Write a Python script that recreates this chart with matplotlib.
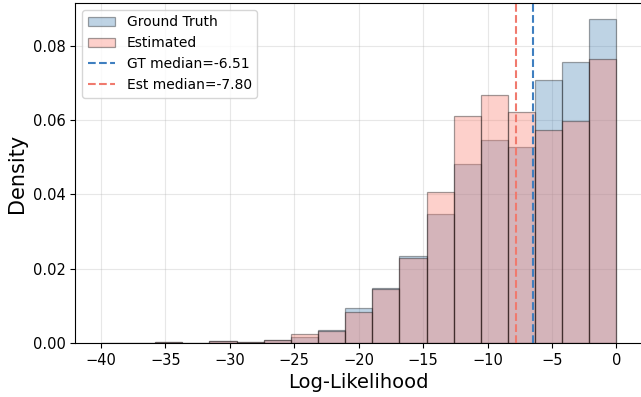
import numpy as np
import matplotlib
matplotlib.use('Agg')
import matplotlib.pyplot as plt

# bin edges shared by both histograms (19 bins from -40 to 0)
bin_edges = np.linspace(-40, 0, 20)

# density per bin (left to right)
gt_density = [0.0001, 0.0001, 0.0002, 0.0001, 0.0005, 0.0003, 0.0008, 0.0017, 0.0034,
              0.0095, 0.0148, 0.0233, 0.0348, 0.0482, 0.0546, 0.0528, 0.0709, 0.0755, 0.0872]
est_density = [0.0001, 0.0001, 0.0002, 0.0001, 0.0005, 0.0003, 0.0008, 0.0023, 0.0033,
               0.0083, 0.0146, 0.0228, 0.0406, 0.0611, 0.0668, 0.0621, 0.0573, 0.0598, 0.0765]

gt_median = -6.51
est_median = -7.80

centers = (bin_edges[:-1] + bin_edges[1:]) / 2

fig = plt.figure(figsize=(6.41, 3.97), dpi=100)
# right side of the axes is cut off by the canvas in the reference
ax = fig.add_axes([0.1173, 0.136, 0.8846, 0.857])
ax.spines['right'].set_visible(False)

ax.hist(centers, bins=bin_edges, weights=gt_density, color='steelblue', alpha=0.35,
        edgecolor='black', linewidth=0.9, label='Ground Truth')
ax.hist(centers, bins=bin_edges, weights=est_density, color='salmon', alpha=0.37,
        edgecolor='black', linewidth=0.9, label='Estimated')

ax.axvline(gt_median, color='#3f7fc0', linestyle='--', linewidth=1.5, label=f'GT median={gt_median:.2f}')
ax.axvline(est_median, color='#f07a6e', linestyle='--', linewidth=1.5, label=f'Est median={est_median:.2f}')

ax.set_xlim(-42, 2)
ax.set_xlabel('Log-Likelihood', fontsize=14)
ax.set_ylabel('Density', fontsize=15)
ax.tick_params(labelsize=10.5)
ax.grid(True, alpha=0.3)
ax.set_axisbelow(True)
ax.legend(loc='upper left', fontsize=10)

fig.savefig('out.png', dpi=100)
